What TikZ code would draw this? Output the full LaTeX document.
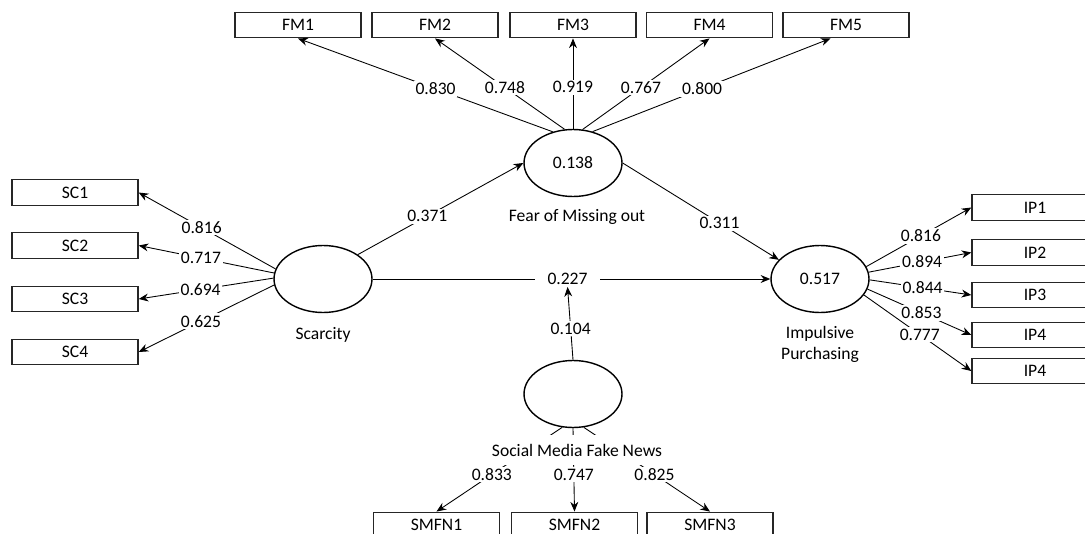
\documentclass[tikz,border=0pt]{standalone}
\usepackage{fontspec}
\setmainfont{Carlito}
\usetikzlibrary{shapes.geometric, arrows.meta}

\tikzset{
  latent/.style={draw, ellipse, line width=0.8pt, minimum width=1.96cm, minimum height=1.34cm, inner sep=0pt},
  indicator/.style={draw=black!85, rectangle, line width=0.8pt, minimum width=2.52cm, minimum height=0.51cm, inner sep=0pt},
  coef/.style={fill=white, inner sep=1pt},
  link/.style={->, line width=0.5pt},
}

\begin{document}
\begin{tikzpicture}[x=0.02cm, y=-0.02cm, >={Stealth[length=5.5pt, width=4.5pt]}]
\useasboundingbox[fill=white] (0,0) rectangle (1085,534);
% Latent variables
\node[latent] (scar) at (323,279) {};
\node[latent] (fomo) at (573,163) {0.138};
\node[latent] (imp) at (820,279) {0.517};
\node[latent] (smfn) at (573,394) {};
% Indicators
\foreach \n/\y in {1/192.5, 2/245.5, 3/299, 4/352}
  \node[indicator] (sc\n) at (75,\y) {SC\n};
\foreach \n/\x in {1/298, 2/435, 3/573, 4/709.5, 5/846}
  \node[indicator] (fm\n) at (\x,25) {FM\n};
\foreach \n/\y/\t in {1/207.5/IP1, 2/252.5/IP2, 3/295/IP3, 4/335/IP4, 5/371/IP4}
  \node[indicator] (ip\n) at (1035,\y) {\t};
\foreach \n/\x in {1/436.5, 2/574.5, 3/710}
  \node[indicator] (smfn\n) at (\x,525) {SMFN\n};
% Outer loadings
\foreach \a/\n/\v in {168/1/0.816, 173/2/0.717, 179/3/0.694, 187/4/0.625}
  \draw[link] (scar.\a) -- (sc\n.east) node[coef, pos=0.54] {\v};
\foreach \a/\n/\v/\e in {123/1/0.830/south, 104/2/0.748/south, 90/3/0.919/south, 74/4/0.767/south, 58/5/0.800/221}
  \draw[link] (fomo.\a) -- (fm\n.\e) node[coef, pos=0.46] {\v};
\foreach \a/\n/\v in {15/1/0.816, 8/2/0.894, 359/3/0.844, 348/4/0.853, 340/5/0.777}
  \draw[link] (imp.\a) -- (ip\n.west) node[coef, pos=0.52] {\v};
\foreach \a/\n/\v in {252/1/0.833, 270/2/0.747, 288/3/0.825}
  \draw[link] (smfn.\a) -- (smfn\n.north) node[coef, pos=0.56] {\v};
% Structural paths
\draw[link] (scar.35) -- (fomo.west) node[coef, pos=0.42] {0.371};
\draw[link] (fomo.east) -- (imp.155) node[coef, pos=0.62] {0.311};
\draw[link] (scar.east) -- (imp.west) node[coef, pos=0.49, inner xsep=7pt] (eff) {0.227};
\draw[link] (smfn.north) -- (eff.south) node[coef, pos=0.43] {0.104};
% Construct names
\node (scarname) at (323,335) {Scarcity};
\node (fomoname) at (577,217) {Fear of Missing out};
\node[align=center] (impname) at (820,344) {Impulsive\\Purchasing};
\node[fill=white, inner xsep=2pt, inner ysep=5pt] (smfnname) at (577,450) {Social Media Fake News};
\end{tikzpicture}
\end{document}
